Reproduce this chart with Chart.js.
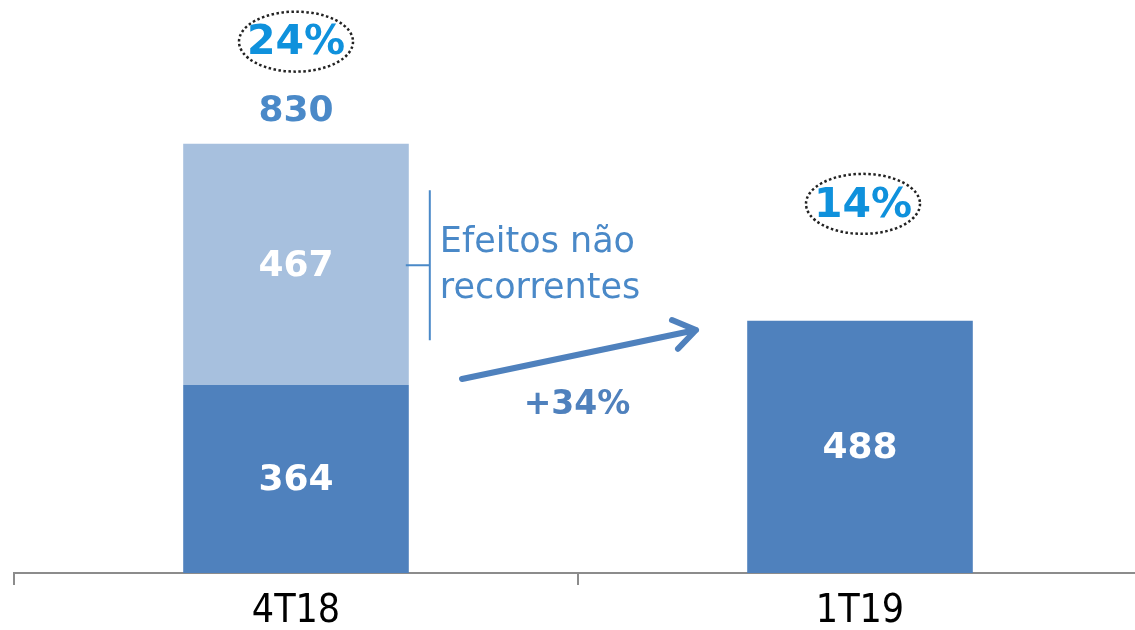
<!DOCTYPE html>
<html>
<head>
<meta charset="utf-8">
<script src="https://cdn.jsdelivr.net/npm/chart.js@4.4.1/dist/chart.umd.min.js"></script>
<style>
  html, body { margin: 0; padding: 0; background: #ffffff; overflow: hidden; }
  #wrap { width: 1142px; height: 630px; position: relative; }
</style>
</head>
<body>
<div id="wrap"><canvas id="chart"></canvas></div>
<script>
// Lucro líquido 4T18 x 1T19
const categories = ['4T18', '1T19'];
const recurring = [364, 488];
const nonRecurring = [467, null];
const totals = ['830', null];
const margins = ['24%', '14%'];
const growthLabel = '+34%';
const bracketLabel = ['Efeitos não', 'recorrentes'];

const DARK = '#4f81bd';
const LIGHT = '#a7c0de';
const TEXT_BLUE = '#4a89c8';
const PCT_BLUE = '#0f91dc';
const FONT = '"DejaVu Sans", Verdana, sans-serif';

// Draws segment values, totals, margin bubbles, bracket and growth arrow
const overlayPlugin = {
    id: 'overlay',
    afterDatasetsDraw(chart) {
        const ctx = chart.ctx;
        const base = chart.getDatasetMeta(0).data;
        const top = chart.getDatasetMeta(1).data;
        ctx.save();
        ctx.textAlign = 'center';
        ctx.textBaseline = 'middle';

        // values inside the bars
        ctx.font = 'bold 36px ' + FONT;
        ctx.fillStyle = '#ffffff';
        base.forEach((bar, i) => {
            ctx.fillText(String(recurring[i]), bar.x, (bar.y + bar.base) / 2 + 2);
        });
        top.forEach((bar, i) => {
            if (nonRecurring[i] == null) return;
            ctx.fillText(String(nonRecurring[i]), bar.x, (bar.y + bar.base) / 2 + 2);
        });

        // totals above stacked bar and margin ellipses
        margins.forEach((txt, i) => {
            const seg = nonRecurring[i] != null ? top[i] : base[i];
            const barTop = seg.y;
            let pctY, cx = seg.x;
            if (totals[i]) {
                ctx.font = 'bold 36px ' + FONT;
                ctx.fillStyle = TEXT_BLUE;
                ctx.fillText(totals[i], seg.x, barTop - 32);
                pctY = barTop - 102;
            } else {
                pctY = barTop - 117;
                cx = seg.x + 3;
            }
            ctx.save();
            ctx.setLineDash([2.5, 2.5]);
            ctx.lineWidth = 2.5;
            ctx.strokeStyle = '#222222';
            ctx.beginPath();
            ctx.ellipse(cx, pctY, 57, 30, 0, 0, Math.PI * 2);
            ctx.stroke();
            ctx.restore();
            ctx.font = 'bold 41px ' + FONT;
            ctx.fillStyle = PCT_BLUE;
            ctx.fillText(txt, cx, pctY + 2);
        });

        // bracket for non recurring effects
        const seg = top[0];
        const right = seg.x + seg.width / 2;
        const bx = right + 21;
        const midY = (seg.y + seg.base) / 2 + 1;
        ctx.strokeStyle = TEXT_BLUE;
        ctx.lineWidth = 2;
        ctx.beginPath();
        ctx.moveTo(bx, midY - 75);
        ctx.lineTo(bx, midY + 75);
        ctx.moveTo(right - 3, midY);
        ctx.lineTo(bx, midY);
        ctx.stroke();
        ctx.font = '35px ' + FONT;
        ctx.fillStyle = TEXT_BLUE;
        ctx.textAlign = 'left';
        ctx.fillText(bracketLabel[0], bx + 10, midY - 22);
        ctx.fillText(bracketLabel[1], bx + 10, midY + 24);

        // growth arrow
        const x0 = 462, y0 = 379, x1 = 696, y1 = 330;
        const ang = Math.atan2(y1 - y0, x1 - x0);
        ctx.strokeStyle = DARK;
        ctx.lineWidth = 6;
        ctx.lineCap = 'round';
        ctx.lineJoin = 'round';
        ctx.beginPath();
        ctx.moveTo(x0, y0);
        ctx.lineTo(x1, y1);
        ctx.moveTo(x1 - 26 * Math.cos(ang - 0.6), y1 - 26 * Math.sin(ang - 0.6));
        ctx.lineTo(x1, y1);
        ctx.lineTo(x1 - 26 * Math.cos(ang + 0.6), y1 - 26 * Math.sin(ang + 0.6));
        ctx.stroke();
        ctx.font = 'bold 33px ' + FONT;
        ctx.fillStyle = DARK;
        ctx.textAlign = 'center';
        ctx.fillText(growthLabel, 577, 405);
        ctx.restore();
    }
};

new Chart(document.getElementById('chart'), {
    type: 'bar',
    data: {
        labels: categories,
        datasets: [
            {
                label: 'Recorrente',
                data: recurring,
                backgroundColor: DARK,
                borderWidth: 0
            },
            {
                label: 'Efeitos não recorrentes',
                data: nonRecurring,
                backgroundColor: LIGHT,
                borderWidth: 0
            }
        ]
    },
    options: {
        responsive: true,
        maintainAspectRatio: false,
        animation: false,
        layout: {
            padding: { top: 0, left: 14, right: 0, bottom: 0 }
        },
        datasets: {
            bar: { categoryPercentage: 1, barPercentage: 0.4 }
        },
        plugins: {
            legend: { display: false },
            tooltip: { enabled: false },
            title: { display: false }
        },
        scales: {
            x: {
                stacked: true,
                offset: true,
                afterFit(scale) { scale.height = 57; },
                border: { display: true, color: '#8c8c8c', width: 2 },
                grid: {
                    offset: true,
                    drawOnChartArea: false,
                    drawTicks: true,
                    tickLength: 12,
                    color: '#8c8c8c',
                    lineWidth: 2
                },
                ticks: {
                    color: '#000000',
                    padding: 3,
                    font: { family: '"DejaVu Sans Condensed", "DejaVu Sans", sans-serif', size: 39 }
                }
            },
            y: {
                stacked: true,
                display: false,
                min: 0,
                max: 1109
            }
        }
    },
    plugins: [overlayPlugin]
});
</script>
</body>
</html>
